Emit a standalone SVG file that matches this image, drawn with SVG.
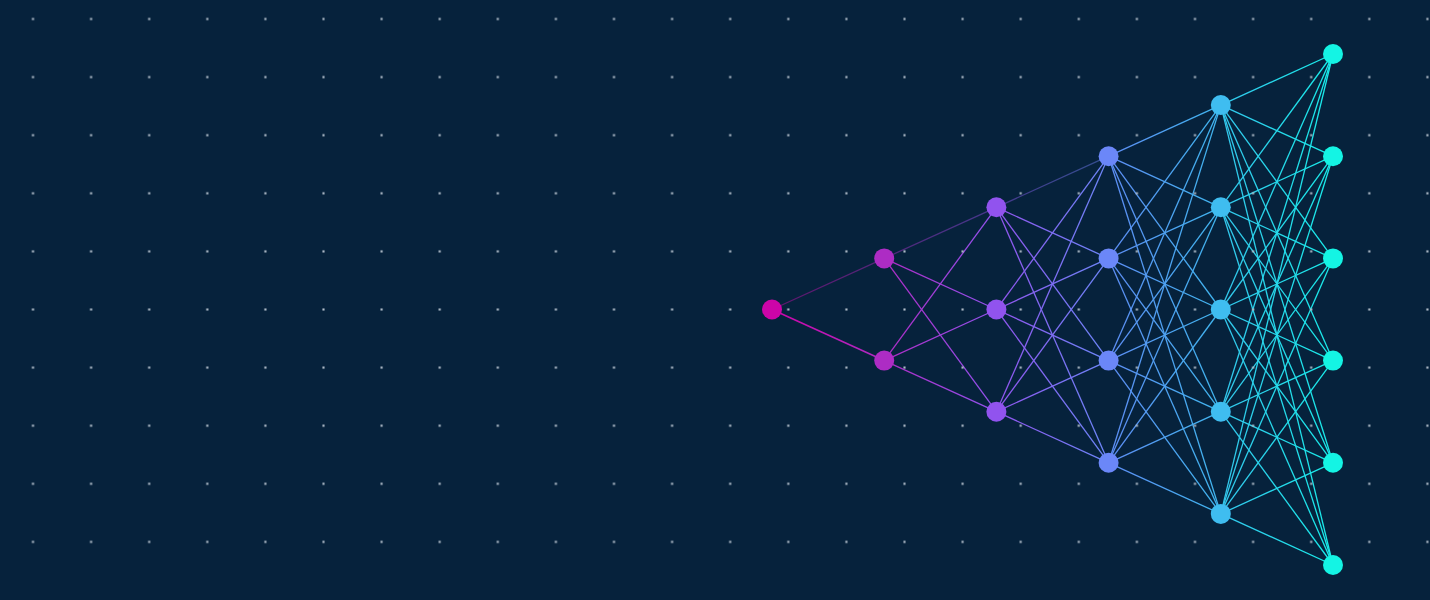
<svg xmlns="http://www.w3.org/2000/svg" width="1430" height="600" viewBox="0 0 1430 600">
<defs>
<style>
.e line{stroke-width:1.3;fill:none}
.faint{opacity:0.45}
.n0{fill:#cc05a8}.n1{fill:#ad2cc4}.n2{fill:#9153ee}.n3{fill:#6b87f8}.n4{fill:#3fbdf0}.n5{fill:#14f4e4}
</style>
<linearGradient id="g01" gradientUnits="userSpaceOnUse" x1="772" y1="0" x2="884.2" y2="0"><stop offset="0" stop-color="#cc05a8"/><stop offset="1" stop-color="#ad2cc4"/></linearGradient>
<linearGradient id="g12" gradientUnits="userSpaceOnUse" x1="884.2" y1="0" x2="996.4" y2="0"><stop offset="0" stop-color="#ad2cc4"/><stop offset="1" stop-color="#9153ee"/></linearGradient>
<linearGradient id="g23" gradientUnits="userSpaceOnUse" x1="996.4" y1="0" x2="1108.6" y2="0"><stop offset="0" stop-color="#9153ee"/><stop offset="1" stop-color="#6b87f8"/></linearGradient>
<linearGradient id="g34" gradientUnits="userSpaceOnUse" x1="1108.6" y1="0" x2="1220.8" y2="0"><stop offset="0" stop-color="#5d8cf4"/><stop offset="1" stop-color="#3fb6ee"/></linearGradient>
<linearGradient id="g45" gradientUnits="userSpaceOnUse" x1="1220.8" y1="0" x2="1333" y2="0"><stop offset="0" stop-color="#33c6ec"/><stop offset="1" stop-color="#18ecea"/></linearGradient>
<pattern id="dots" patternUnits="userSpaceOnUse" x="3.95" y="-10.05" width="58.1" height="58.1"><rect x="28" y="28" width="2.1" height="2.1" fill="#b4c0cc"/></pattern>
</defs>
<rect width="1430" height="600" fill="#06223c"/>
<g id="connectors" class="e">
<g stroke="url(#g01)">
<line class="faint" x1="772" y1="309.5" x2="884.2" y2="258.4"/>
<line x1="772" y1="309.5" x2="884.2" y2="360.6" style="stroke-width:1.6"/>
</g>
<g stroke="url(#g12)">
<line class="faint" x1="884.2" y1="258.4" x2="996.4" y2="207.3"/>
<line x1="884.2" y1="258.4" x2="996.4" y2="309.5"/>
<line x1="884.2" y1="258.4" x2="996.4" y2="411.7"/>
<line x1="884.2" y1="360.6" x2="996.4" y2="207.3"/>
<line x1="884.2" y1="360.6" x2="996.4" y2="309.5"/>
<line x1="884.2" y1="360.6" x2="996.4" y2="411.7"/>
</g>
<g stroke="url(#g23)">
<line class="faint" x1="996.4" y1="207.3" x2="1108.6" y2="156.2"/>
<line x1="996.4" y1="207.3" x2="1108.6" y2="258.4"/>
<line x1="996.4" y1="207.3" x2="1108.6" y2="360.6"/>
<line x1="996.4" y1="207.3" x2="1108.6" y2="462.8"/>
<line x1="996.4" y1="309.5" x2="1108.6" y2="156.2"/>
<line x1="996.4" y1="309.5" x2="1108.6" y2="258.4"/>
<line x1="996.4" y1="309.5" x2="1108.6" y2="360.6"/>
<line x1="996.4" y1="309.5" x2="1108.6" y2="462.8"/>
<line x1="996.4" y1="411.7" x2="1108.6" y2="156.2"/>
<line x1="996.4" y1="411.7" x2="1108.6" y2="258.4"/>
<line x1="996.4" y1="411.7" x2="1108.6" y2="360.6"/>
<line x1="996.4" y1="411.7" x2="1108.6" y2="462.8"/>
</g>
<g stroke="url(#g34)">
<line x1="1108.6" y1="156.2" x2="1220.8" y2="105.1"/>
<line x1="1108.6" y1="156.2" x2="1220.8" y2="207.3"/>
<line x1="1108.6" y1="156.2" x2="1220.8" y2="309.5"/>
<line x1="1108.6" y1="156.2" x2="1220.8" y2="411.7"/>
<line x1="1108.6" y1="156.2" x2="1220.8" y2="513.9"/>
<line x1="1108.6" y1="258.4" x2="1220.8" y2="105.1"/>
<line x1="1108.6" y1="258.4" x2="1220.8" y2="207.3"/>
<line x1="1108.6" y1="258.4" x2="1220.8" y2="309.5"/>
<line x1="1108.6" y1="258.4" x2="1220.8" y2="411.7"/>
<line x1="1108.6" y1="258.4" x2="1220.8" y2="513.9"/>
<line x1="1108.6" y1="360.6" x2="1220.8" y2="105.1"/>
<line x1="1108.6" y1="360.6" x2="1220.8" y2="207.3"/>
<line x1="1108.6" y1="360.6" x2="1220.8" y2="309.5"/>
<line x1="1108.6" y1="360.6" x2="1220.8" y2="411.7"/>
<line x1="1108.6" y1="360.6" x2="1220.8" y2="513.9"/>
<line x1="1108.6" y1="462.8" x2="1220.8" y2="105.1"/>
<line x1="1108.6" y1="462.8" x2="1220.8" y2="207.3"/>
<line x1="1108.6" y1="462.8" x2="1220.8" y2="309.5"/>
<line x1="1108.6" y1="462.8" x2="1220.8" y2="411.7"/>
<line x1="1108.6" y1="462.8" x2="1220.8" y2="513.9"/>
</g>
<g stroke="url(#g45)">
<line x1="1220.8" y1="105.1" x2="1333" y2="54"/>
<line x1="1220.8" y1="105.1" x2="1333" y2="156.2"/>
<line x1="1220.8" y1="105.1" x2="1333" y2="258.4"/>
<line x1="1220.8" y1="105.1" x2="1333" y2="360.6"/>
<line x1="1220.8" y1="105.1" x2="1333" y2="462.8"/>
<line x1="1220.8" y1="105.1" x2="1333" y2="565"/>
<line x1="1220.8" y1="207.3" x2="1333" y2="54"/>
<line x1="1220.8" y1="207.3" x2="1333" y2="156.2"/>
<line x1="1220.8" y1="207.3" x2="1333" y2="258.4"/>
<line x1="1220.8" y1="207.3" x2="1333" y2="360.6"/>
<line x1="1220.8" y1="207.3" x2="1333" y2="462.8"/>
<line x1="1220.8" y1="207.3" x2="1333" y2="565"/>
<line x1="1220.8" y1="309.5" x2="1333" y2="54"/>
<line x1="1220.8" y1="309.5" x2="1333" y2="156.2"/>
<line x1="1220.8" y1="309.5" x2="1333" y2="258.4"/>
<line x1="1220.8" y1="309.5" x2="1333" y2="360.6"/>
<line x1="1220.8" y1="309.5" x2="1333" y2="462.8"/>
<line x1="1220.8" y1="309.5" x2="1333" y2="565"/>
<line x1="1220.8" y1="411.7" x2="1333" y2="54"/>
<line x1="1220.8" y1="411.7" x2="1333" y2="156.2"/>
<line x1="1220.8" y1="411.7" x2="1333" y2="258.4"/>
<line x1="1220.8" y1="411.7" x2="1333" y2="360.6"/>
<line x1="1220.8" y1="411.7" x2="1333" y2="462.8"/>
<line x1="1220.8" y1="411.7" x2="1333" y2="565"/>
<line x1="1220.8" y1="513.9" x2="1333" y2="54"/>
<line x1="1220.8" y1="513.9" x2="1333" y2="156.2"/>
<line x1="1220.8" y1="513.9" x2="1333" y2="258.4"/>
<line x1="1220.8" y1="513.9" x2="1333" y2="360.6"/>
<line x1="1220.8" y1="513.9" x2="1333" y2="462.8"/>
<line x1="1220.8" y1="513.9" x2="1333" y2="565"/>
</g>
</g>
<rect x="0" y="0" width="1430" height="580" fill="url(#dots)"/>
<g id="layer0">
<g id="n0_0"><circle class="n0" cx="772" cy="309.5" r="10"/></g>
</g>
<g id="layer1">
<g id="n1_0"><circle class="n1" cx="884.2" cy="258.4" r="10"/></g>
<g id="n1_1"><circle class="n1" cx="884.2" cy="360.6" r="10"/></g>
</g>
<g id="layer2">
<g id="n2_0"><circle class="n2" cx="996.4" cy="207.3" r="10"/></g>
<g id="n2_1"><circle class="n2" cx="996.4" cy="309.5" r="10"/></g>
<g id="n2_2"><circle class="n2" cx="996.4" cy="411.7" r="10"/></g>
</g>
<g id="layer3">
<g id="n3_0"><circle class="n3" cx="1108.6" cy="156.2" r="10"/></g>
<g id="n3_1"><circle class="n3" cx="1108.6" cy="258.4" r="10"/></g>
<g id="n3_2"><circle class="n3" cx="1108.6" cy="360.6" r="10"/></g>
<g id="n3_3"><circle class="n3" cx="1108.6" cy="462.8" r="10"/></g>
</g>
<g id="layer4">
<g id="n4_0"><circle class="n4" cx="1220.8" cy="105.1" r="10"/></g>
<g id="n4_1"><circle class="n4" cx="1220.8" cy="207.3" r="10"/></g>
<g id="n4_2"><circle class="n4" cx="1220.8" cy="309.5" r="10"/></g>
<g id="n4_3"><circle class="n4" cx="1220.8" cy="411.7" r="10"/></g>
<g id="n4_4"><circle class="n4" cx="1220.8" cy="513.9" r="10"/></g>
</g>
<g id="layer5">
<g id="n5_0"><circle class="n5" cx="1333" cy="54" r="10"/></g>
<g id="n5_1"><circle class="n5" cx="1333" cy="156.2" r="10"/></g>
<g id="n5_2"><circle class="n5" cx="1333" cy="258.4" r="10"/></g>
<g id="n5_3"><circle class="n5" cx="1333" cy="360.6" r="10"/></g>
<g id="n5_4"><circle class="n5" cx="1333" cy="462.8" r="10"/></g>
<g id="n5_5"><circle class="n5" cx="1333" cy="565" r="10"/></g>
</g>
</svg>
